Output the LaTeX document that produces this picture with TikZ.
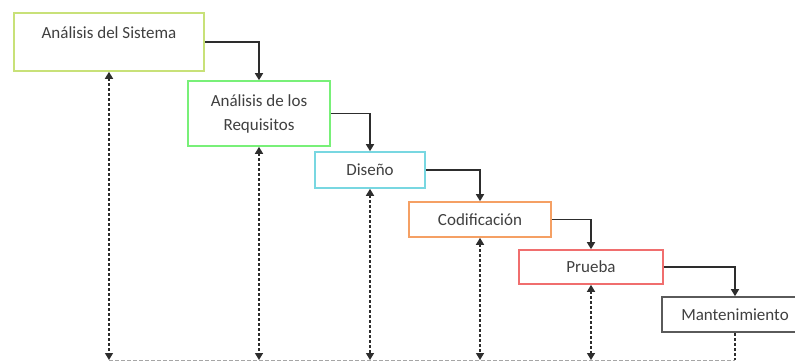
\documentclass[tikz,border=0pt]{standalone}
\usepackage{fontspec}
\setmainfont{Carlito}
\usetikzlibrary{arrows.meta}
\definecolor{txt}{RGB}{64,64,64}
\definecolor{conn}{RGB}{45,45,45}
\definecolor{cSistema}{RGB}{200,225,120}
\definecolor{cRequisitos}{RGB}{120,240,120}
\definecolor{cDiseno}{RGB}{120,215,225}
\definecolor{cCodif}{RGB}{245,160,100}
\definecolor{cPrueba}{RGB}{240,110,110}
\definecolor{cMant}{RGB}{90,90,90}
\begin{document}
\begin{tikzpicture}[x=1pt,y=-1pt,
  phase/.style={draw, line width=1.6pt, fill=white, inner sep=0pt, text=txt,
    font=\fontsize{17}{22}\selectfont, align=center},
  flow/.style={draw=conn, line width=1.4pt, -{Triangle[width=8pt,length=7pt]}},
  feedback/.style={draw=conn, line width=1.4pt, dash pattern=on 3pt off 2pt,
    {Triangle[width=8pt,length=7pt]}-{Triangle[width=8pt,length=7pt]}},
  tail/.style={draw=conn, line width=1.4pt, dash pattern=on 3pt off 2pt},
  baseline/.style={draw=gray!70, line width=1pt, dash pattern=on 4pt off 2pt}]
\clip (0,0) rectangle (795,362);

% phases of the waterfall model
\node[phase, draw=cSistema, minimum width=190pt, minimum height=58pt,
  font=\fontsize{17}{15}\selectfont]
  (sistema) at (109,42) {Análisis del Sistema\\\strut};
\node[phase, draw=cRequisitos, minimum width=142pt, minimum height=65pt,
  font=\fontsize{17}{24}\selectfont]
  (requisitos) at (259,113.5) {Análisis de los\\Requisitos};
\node[phase, draw=cDiseno, minimum width=110pt, minimum height=36pt]
  (diseno) at (370,170) {Diseño};
\node[phase, draw=cCodif, minimum width=142pt, minimum height=35pt]
  (codif) at (480,219.5) {Codificación};
\node[phase, draw=cPrueba, minimum width=144pt, minimum height=34pt]
  (prueba) at (591,267) {Prueba};
\node[phase, draw=cMant, minimum width=146pt, minimum height=35pt]
  (mant) at (735,314.5) {Mantenimiento};

% points on the common return line
\coordinate (b1) at (109,360);
\coordinate (b2) at (259,360);
\coordinate (b3) at (370,360);
\coordinate (b4) at (480,360);
\coordinate (b5) at (591,360);
\coordinate (b6) at (735,360);

% forward flow between phases
\draw[flow] (sistema.east) -| (requisitos.north);
\draw[flow] (requisitos.east) -| (diseno.north);
\draw[flow] (diseno.east) -| (codif.north);
\draw[flow] (codif.east) -| (prueba.north);
\draw[flow] (prueba.east) -| (mant.north);

% feedback paths
\draw[baseline] (b1) -- (b6);
\draw[feedback] (sistema.south) -- (b1);
\draw[feedback] (requisitos.south) -- (b2);
\draw[feedback] (diseno.south) -- (b3);
\draw[feedback] (codif.south) -- (b4);
\draw[feedback] (prueba.south) -- (b5);
\draw[tail] (mant.south) -- (b6);
\end{tikzpicture}
\end{document}
